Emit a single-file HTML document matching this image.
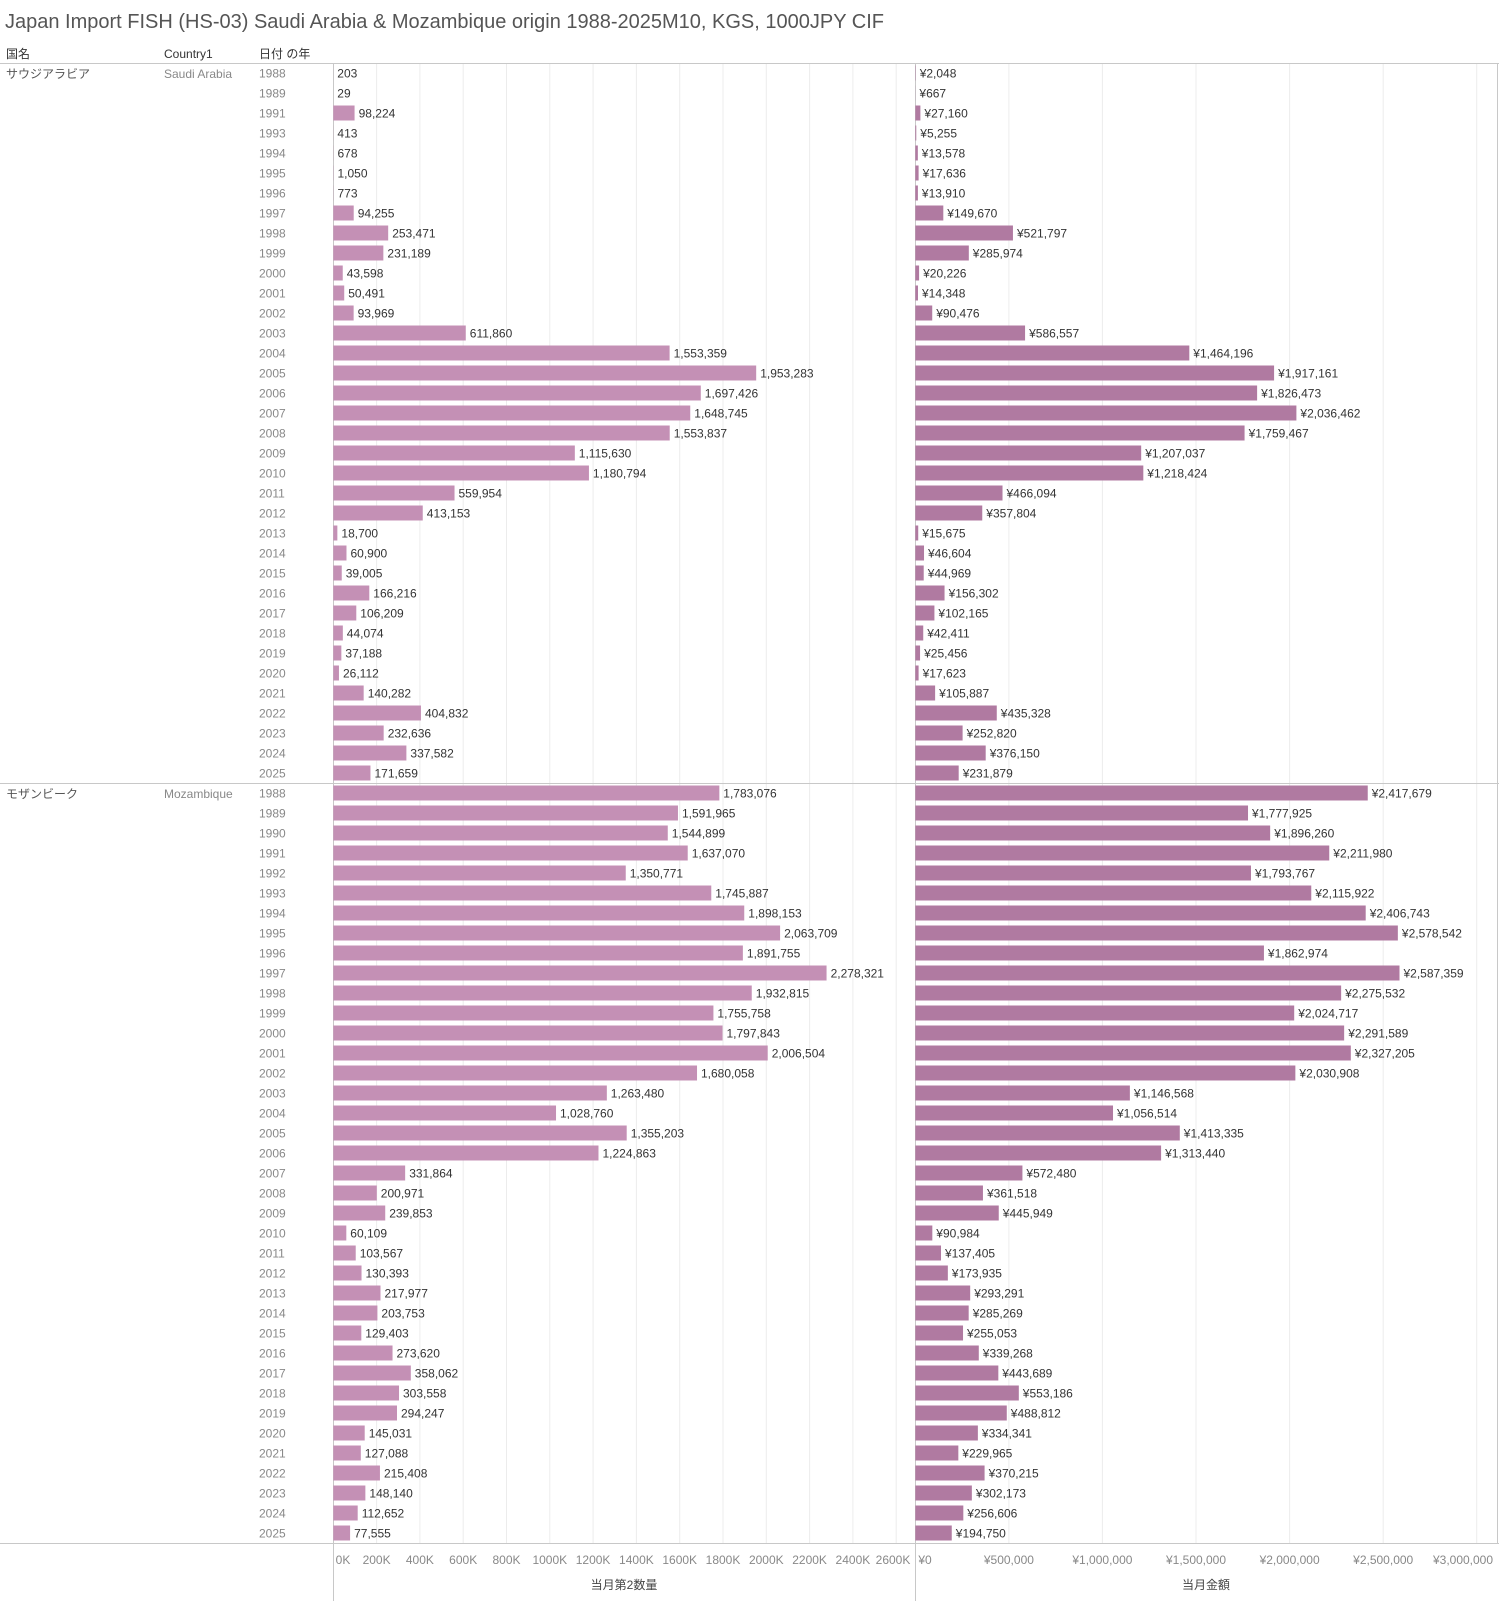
<!DOCTYPE html>
<html><head><meta charset="utf-8"><style>
html,body{margin:0;padding:0;background:#fff}
svg{display:block}
text{font-family:"Liberation Sans","Noto Sans CJK JP",sans-serif;font-size:12px}
.v{fill:#333}.y{fill:#888}.a{fill:#888;font-size:12px}
.l{fill:#c490b5}.r{fill:#b07aa1}
</style></head><body>
<svg width="1499" height="1601" viewBox="0 0 1499 1601" xmlns="http://www.w3.org/2000/svg">
<text x="5" y="28" style="font-size:20px;fill:#555">Japan Import FISH (HS-03) Saudi Arabia &amp; Mozambique origin 1988-2025M10, KGS, 1000JPY CIF</text>
<text x="6" y="58" style="fill:#333">国名</text>
<text x="164" y="58" style="fill:#333">Country1</text>
<text x="259" y="58" style="fill:#333">日付 の年</text>
<g stroke="#ececec" stroke-width="1">
<line x1="376.6" y1="63" x2="376.6" y2="1543"/><line x1="419.9" y1="63" x2="419.9" y2="1543"/><line x1="463.2" y1="63" x2="463.2" y2="1543"/><line x1="506.5" y1="63" x2="506.5" y2="1543"/><line x1="549.8" y1="63" x2="549.8" y2="1543"/><line x1="593.1" y1="63" x2="593.1" y2="1543"/><line x1="636.4" y1="63" x2="636.4" y2="1543"/><line x1="679.7" y1="63" x2="679.7" y2="1543"/><line x1="723" y1="63" x2="723" y2="1543"/><line x1="766.3" y1="63" x2="766.3" y2="1543"/><line x1="809.6" y1="63" x2="809.6" y2="1543"/><line x1="852.9" y1="63" x2="852.9" y2="1543"/><line x1="896.2" y1="63" x2="896.2" y2="1543"/>
<line x1="1008.9" y1="63" x2="1008.9" y2="1543"/><line x1="1102.4" y1="63" x2="1102.4" y2="1543"/><line x1="1196" y1="63" x2="1196" y2="1543"/><line x1="1289.6" y1="63" x2="1289.6" y2="1543"/><line x1="1383.2" y1="63" x2="1383.2" y2="1543"/><line x1="1476.7" y1="63" x2="1476.7" y2="1543"/>
</g>
<g stroke="#c8c8c8" stroke-width="1">
<line x1="0" y1="63.5" x2="1499" y2="63.5"/>
<line x1="0" y1="783.5" x2="1499" y2="783.5"/>
<line x1="0" y1="1543.5" x2="1499" y2="1543.5"/>
<line x1="333.5" y1="63" x2="333.5" y2="1601"/>
<line x1="915.5" y1="63" x2="915.5" y2="1601"/>
<line x1="1497.5" y1="63" x2="1497.5" y2="1543"/>
</g>
<text x="6" y="78" class="y" style="fill:#555">サウジアラビア</text>
<text x="164" y="78" class="y">Saudi Arabia</text>
<text x="6" y="798" class="y" style="fill:#555">モザンビーク</text>
<text x="164" y="798" class="y">Mozambique</text>

<g transform="translate(0,63)"><text x="259" y="14.5" class="y">1988</text><rect class="l" x="333.3" y="2.5" width="0.04" height="15"/><text x="337.3" y="14.5" class="v">203</text><rect class="r" x="915.3" y="2.5" width="0.38" height="15"/><text x="919.7" y="14.5" class="v">¥2,048</text></g>
<g transform="translate(0,83)"><text x="259" y="14.5" class="y">1989</text><text x="337.3" y="14.5" class="v">29</text><rect class="r" x="915.3" y="2.5" width="0.12" height="15"/><text x="919.4" y="14.5" class="v">¥667</text></g>
<g transform="translate(0,103)"><text x="259" y="14.5" class="y">1991</text><rect class="l" x="333.3" y="2.5" width="21.27" height="15"/><text x="358.6" y="14.5" class="v">98,224</text><rect class="r" x="915.3" y="2.5" width="5.08" height="15"/><text x="924.4" y="14.5" class="v">¥27,160</text></g>
<g transform="translate(0,123)"><text x="259" y="14.5" class="y">1993</text><rect class="l" x="333.3" y="2.5" width="0.09" height="15"/><text x="337.4" y="14.5" class="v">413</text><rect class="r" x="915.3" y="2.5" width="0.98" height="15"/><text x="920.3" y="14.5" class="v">¥5,255</text></g>
<g transform="translate(0,143)"><text x="259" y="14.5" class="y">1994</text><rect class="l" x="333.3" y="2.5" width="0.15" height="15"/><text x="337.5" y="14.5" class="v">678</text><rect class="r" x="915.3" y="2.5" width="2.54" height="15"/><text x="921.8" y="14.5" class="v">¥13,578</text></g>
<g transform="translate(0,163)"><text x="259" y="14.5" class="y">1995</text><rect class="l" x="333.3" y="2.5" width="0.23" height="15"/><text x="337.5" y="14.5" class="v">1,050</text><rect class="r" x="915.3" y="2.5" width="3.30" height="15"/><text x="922.6" y="14.5" class="v">¥17,636</text></g>
<g transform="translate(0,183)"><text x="259" y="14.5" class="y">1996</text><rect class="l" x="333.3" y="2.5" width="0.17" height="15"/><text x="337.5" y="14.5" class="v">773</text><rect class="r" x="915.3" y="2.5" width="2.60" height="15"/><text x="921.9" y="14.5" class="v">¥13,910</text></g>
<g transform="translate(0,203)"><text x="259" y="14.5" class="y">1997</text><rect class="l" x="333.3" y="2.5" width="20.41" height="15"/><text x="357.7" y="14.5" class="v">94,255</text><rect class="r" x="915.3" y="2.5" width="28.01" height="15"/><text x="947.3" y="14.5" class="v">¥149,670</text></g>
<g transform="translate(0,223)"><text x="259" y="14.5" class="y">1998</text><rect class="l" x="333.3" y="2.5" width="54.88" height="15"/><text x="392.2" y="14.5" class="v">253,471</text><rect class="r" x="915.3" y="2.5" width="97.65" height="15"/><text x="1017.0" y="14.5" class="v">¥521,797</text></g>
<g transform="translate(0,243)"><text x="259" y="14.5" class="y">1999</text><rect class="l" x="333.3" y="2.5" width="50.05" height="15"/><text x="387.4" y="14.5" class="v">231,189</text><rect class="r" x="915.3" y="2.5" width="53.52" height="15"/><text x="972.8" y="14.5" class="v">¥285,974</text></g>
<g transform="translate(0,263)"><text x="259" y="14.5" class="y">2000</text><rect class="l" x="333.3" y="2.5" width="9.44" height="15"/><text x="346.7" y="14.5" class="v">43,598</text><rect class="r" x="915.3" y="2.5" width="3.79" height="15"/><text x="923.1" y="14.5" class="v">¥20,226</text></g>
<g transform="translate(0,283)"><text x="259" y="14.5" class="y">2001</text><rect class="l" x="333.3" y="2.5" width="10.93" height="15"/><text x="348.2" y="14.5" class="v">50,491</text><rect class="r" x="915.3" y="2.5" width="2.69" height="15"/><text x="922.0" y="14.5" class="v">¥14,348</text></g>
<g transform="translate(0,303)"><text x="259" y="14.5" class="y">2002</text><rect class="l" x="333.3" y="2.5" width="20.34" height="15"/><text x="357.6" y="14.5" class="v">93,969</text><rect class="r" x="915.3" y="2.5" width="16.93" height="15"/><text x="936.2" y="14.5" class="v">¥90,476</text></g>
<g transform="translate(0,323)"><text x="259" y="14.5" class="y">2003</text><rect class="l" x="333.3" y="2.5" width="132.47" height="15"/><text x="469.8" y="14.5" class="v">611,860</text><rect class="r" x="915.3" y="2.5" width="109.77" height="15"/><text x="1029.1" y="14.5" class="v">¥586,557</text></g>
<g transform="translate(0,343)"><text x="259" y="14.5" class="y">2004</text><rect class="l" x="333.3" y="2.5" width="336.30" height="15"/><text x="673.6" y="14.5" class="v">1,553,359</text><rect class="r" x="915.3" y="2.5" width="274.01" height="15"/><text x="1193.3" y="14.5" class="v">¥1,464,196</text></g>
<g transform="translate(0,363)"><text x="259" y="14.5" class="y">2005</text><rect class="l" x="333.3" y="2.5" width="422.89" height="15"/><text x="760.2" y="14.5" class="v">1,953,283</text><rect class="r" x="915.3" y="2.5" width="358.78" height="15"/><text x="1278.1" y="14.5" class="v">¥1,917,161</text></g>
<g transform="translate(0,383)"><text x="259" y="14.5" class="y">2006</text><rect class="l" x="333.3" y="2.5" width="367.49" height="15"/><text x="704.8" y="14.5" class="v">1,697,426</text><rect class="r" x="915.3" y="2.5" width="341.81" height="15"/><text x="1261.1" y="14.5" class="v">¥1,826,473</text></g>
<g transform="translate(0,403)"><text x="259" y="14.5" class="y">2007</text><rect class="l" x="333.3" y="2.5" width="356.95" height="15"/><text x="694.3" y="14.5" class="v">1,648,745</text><rect class="r" x="915.3" y="2.5" width="381.10" height="15"/><text x="1300.4" y="14.5" class="v">¥2,036,462</text></g>
<g transform="translate(0,423)"><text x="259" y="14.5" class="y">2008</text><rect class="l" x="333.3" y="2.5" width="336.41" height="15"/><text x="673.7" y="14.5" class="v">1,553,837</text><rect class="r" x="915.3" y="2.5" width="329.27" height="15"/><text x="1248.6" y="14.5" class="v">¥1,759,467</text></g>
<g transform="translate(0,443)"><text x="259" y="14.5" class="y">2009</text><rect class="l" x="333.3" y="2.5" width="241.53" height="15"/><text x="578.8" y="14.5" class="v">1,115,630</text><rect class="r" x="915.3" y="2.5" width="225.88" height="15"/><text x="1145.2" y="14.5" class="v">¥1,207,037</text></g>
<g transform="translate(0,463)"><text x="259" y="14.5" class="y">2010</text><rect class="l" x="333.3" y="2.5" width="255.64" height="15"/><text x="592.9" y="14.5" class="v">1,180,794</text><rect class="r" x="915.3" y="2.5" width="228.02" height="15"/><text x="1147.3" y="14.5" class="v">¥1,218,424</text></g>
<g transform="translate(0,483)"><text x="259" y="14.5" class="y">2011</text><rect class="l" x="333.3" y="2.5" width="121.23" height="15"/><text x="458.5" y="14.5" class="v">559,954</text><rect class="r" x="915.3" y="2.5" width="87.22" height="15"/><text x="1006.5" y="14.5" class="v">¥466,094</text></g>
<g transform="translate(0,503)"><text x="259" y="14.5" class="y">2012</text><rect class="l" x="333.3" y="2.5" width="89.45" height="15"/><text x="426.8" y="14.5" class="v">413,153</text><rect class="r" x="915.3" y="2.5" width="66.96" height="15"/><text x="986.3" y="14.5" class="v">¥357,804</text></g>
<g transform="translate(0,523)"><text x="259" y="14.5" class="y">2013</text><rect class="l" x="333.3" y="2.5" width="4.05" height="15"/><text x="341.4" y="14.5" class="v">18,700</text><rect class="r" x="915.3" y="2.5" width="2.93" height="15"/><text x="922.2" y="14.5" class="v">¥15,675</text></g>
<g transform="translate(0,543)"><text x="259" y="14.5" class="y">2014</text><rect class="l" x="333.3" y="2.5" width="13.18" height="15"/><text x="350.5" y="14.5" class="v">60,900</text><rect class="r" x="915.3" y="2.5" width="8.72" height="15"/><text x="928.0" y="14.5" class="v">¥46,604</text></g>
<g transform="translate(0,563)"><text x="259" y="14.5" class="y">2015</text><rect class="l" x="333.3" y="2.5" width="8.44" height="15"/><text x="345.7" y="14.5" class="v">39,005</text><rect class="r" x="915.3" y="2.5" width="8.42" height="15"/><text x="927.7" y="14.5" class="v">¥44,969</text></g>
<g transform="translate(0,583)"><text x="259" y="14.5" class="y">2016</text><rect class="l" x="333.3" y="2.5" width="35.99" height="15"/><text x="373.3" y="14.5" class="v">166,216</text><rect class="r" x="915.3" y="2.5" width="29.25" height="15"/><text x="948.6" y="14.5" class="v">¥156,302</text></g>
<g transform="translate(0,603)"><text x="259" y="14.5" class="y">2017</text><rect class="l" x="333.3" y="2.5" width="22.99" height="15"/><text x="360.3" y="14.5" class="v">106,209</text><rect class="r" x="915.3" y="2.5" width="19.12" height="15"/><text x="938.4" y="14.5" class="v">¥102,165</text></g>
<g transform="translate(0,623)"><text x="259" y="14.5" class="y">2018</text><rect class="l" x="333.3" y="2.5" width="9.54" height="15"/><text x="346.8" y="14.5" class="v">44,074</text><rect class="r" x="915.3" y="2.5" width="7.94" height="15"/><text x="927.2" y="14.5" class="v">¥42,411</text></g>
<g transform="translate(0,643)"><text x="259" y="14.5" class="y">2019</text><rect class="l" x="333.3" y="2.5" width="8.05" height="15"/><text x="345.4" y="14.5" class="v">37,188</text><rect class="r" x="915.3" y="2.5" width="4.76" height="15"/><text x="924.1" y="14.5" class="v">¥25,456</text></g>
<g transform="translate(0,663)"><text x="259" y="14.5" class="y">2020</text><rect class="l" x="333.3" y="2.5" width="5.65" height="15"/><text x="343.0" y="14.5" class="v">26,112</text><rect class="r" x="915.3" y="2.5" width="3.30" height="15"/><text x="922.6" y="14.5" class="v">¥17,623</text></g>
<g transform="translate(0,683)"><text x="259" y="14.5" class="y">2021</text><rect class="l" x="333.3" y="2.5" width="30.37" height="15"/><text x="367.7" y="14.5" class="v">140,282</text><rect class="r" x="915.3" y="2.5" width="19.82" height="15"/><text x="939.1" y="14.5" class="v">¥105,887</text></g>
<g transform="translate(0,703)"><text x="259" y="14.5" class="y">2022</text><rect class="l" x="333.3" y="2.5" width="87.65" height="15"/><text x="425.0" y="14.5" class="v">404,832</text><rect class="r" x="915.3" y="2.5" width="81.47" height="15"/><text x="1000.8" y="14.5" class="v">¥435,328</text></g>
<g transform="translate(0,723)"><text x="259" y="14.5" class="y">2023</text><rect class="l" x="333.3" y="2.5" width="50.37" height="15"/><text x="387.7" y="14.5" class="v">232,636</text><rect class="r" x="915.3" y="2.5" width="47.31" height="15"/><text x="966.6" y="14.5" class="v">¥252,820</text></g>
<g transform="translate(0,743)"><text x="259" y="14.5" class="y">2024</text><rect class="l" x="333.3" y="2.5" width="73.09" height="15"/><text x="410.4" y="14.5" class="v">337,582</text><rect class="r" x="915.3" y="2.5" width="70.39" height="15"/><text x="989.7" y="14.5" class="v">¥376,150</text></g>
<g transform="translate(0,763)"><text x="259" y="14.5" class="y">2025</text><rect class="l" x="333.3" y="2.5" width="37.16" height="15"/><text x="374.5" y="14.5" class="v">171,659</text><rect class="r" x="915.3" y="2.5" width="43.39" height="15"/><text x="962.7" y="14.5" class="v">¥231,879</text></g>

<g transform="translate(0,783)"><text x="259" y="14.5" class="y">1988</text><rect class="l" x="333.3" y="2.5" width="386.04" height="15"/><text x="723.3" y="14.5" class="v">1,783,076</text><rect class="r" x="915.3" y="2.5" width="452.44" height="15"/><text x="1371.7" y="14.5" class="v">¥2,417,679</text></g>
<g transform="translate(0,803)"><text x="259" y="14.5" class="y">1989</text><rect class="l" x="333.3" y="2.5" width="344.66" height="15"/><text x="682.0" y="14.5" class="v">1,591,965</text><rect class="r" x="915.3" y="2.5" width="332.72" height="15"/><text x="1252.0" y="14.5" class="v">¥1,777,925</text></g>
<g transform="translate(0,823)"><text x="259" y="14.5" class="y">1990</text><rect class="l" x="333.3" y="2.5" width="334.47" height="15"/><text x="671.8" y="14.5" class="v">1,544,899</text><rect class="r" x="915.3" y="2.5" width="354.86" height="15"/><text x="1274.2" y="14.5" class="v">¥1,896,260</text></g>
<g transform="translate(0,843)"><text x="259" y="14.5" class="y">1991</text><rect class="l" x="333.3" y="2.5" width="354.42" height="15"/><text x="691.7" y="14.5" class="v">1,637,070</text><rect class="r" x="915.3" y="2.5" width="413.95" height="15"/><text x="1333.3" y="14.5" class="v">¥2,211,980</text></g>
<g transform="translate(0,863)"><text x="259" y="14.5" class="y">1992</text><rect class="l" x="333.3" y="2.5" width="292.44" height="15"/><text x="629.7" y="14.5" class="v">1,350,771</text><rect class="r" x="915.3" y="2.5" width="335.68" height="15"/><text x="1255.0" y="14.5" class="v">¥1,793,767</text></g>
<g transform="translate(0,883)"><text x="259" y="14.5" class="y">1993</text><rect class="l" x="333.3" y="2.5" width="377.98" height="15"/><text x="715.3" y="14.5" class="v">1,745,887</text><rect class="r" x="915.3" y="2.5" width="395.97" height="15"/><text x="1315.3" y="14.5" class="v">¥2,115,922</text></g>
<g transform="translate(0,903)"><text x="259" y="14.5" class="y">1994</text><rect class="l" x="333.3" y="2.5" width="410.95" height="15"/><text x="748.3" y="14.5" class="v">1,898,153</text><rect class="r" x="915.3" y="2.5" width="450.40" height="15"/><text x="1369.7" y="14.5" class="v">¥2,406,743</text></g>
<g transform="translate(0,923)"><text x="259" y="14.5" class="y">1995</text><rect class="l" x="333.3" y="2.5" width="446.79" height="15"/><text x="784.1" y="14.5" class="v">2,063,709</text><rect class="r" x="915.3" y="2.5" width="482.55" height="15"/><text x="1401.9" y="14.5" class="v">¥2,578,542</text></g>
<g transform="translate(0,943)"><text x="259" y="14.5" class="y">1996</text><rect class="l" x="333.3" y="2.5" width="409.57" height="15"/><text x="746.9" y="14.5" class="v">1,891,755</text><rect class="r" x="915.3" y="2.5" width="348.64" height="15"/><text x="1267.9" y="14.5" class="v">¥1,862,974</text></g>
<g transform="translate(0,963)"><text x="259" y="14.5" class="y">1997</text><rect class="l" x="333.3" y="2.5" width="493.26" height="15"/><text x="830.6" y="14.5" class="v">2,278,321</text><rect class="r" x="915.3" y="2.5" width="484.20" height="15"/><text x="1403.5" y="14.5" class="v">¥2,587,359</text></g>
<g transform="translate(0,983)"><text x="259" y="14.5" class="y">1998</text><rect class="l" x="333.3" y="2.5" width="418.45" height="15"/><text x="755.8" y="14.5" class="v">1,932,815</text><rect class="r" x="915.3" y="2.5" width="425.84" height="15"/><text x="1345.1" y="14.5" class="v">¥2,275,532</text></g>
<g transform="translate(0,1003)"><text x="259" y="14.5" class="y">1999</text><rect class="l" x="333.3" y="2.5" width="380.12" height="15"/><text x="717.4" y="14.5" class="v">1,755,758</text><rect class="r" x="915.3" y="2.5" width="378.90" height="15"/><text x="1298.2" y="14.5" class="v">¥2,024,717</text></g>
<g transform="translate(0,1023)"><text x="259" y="14.5" class="y">2000</text><rect class="l" x="333.3" y="2.5" width="389.23" height="15"/><text x="726.5" y="14.5" class="v">1,797,843</text><rect class="r" x="915.3" y="2.5" width="428.85" height="15"/><text x="1348.2" y="14.5" class="v">¥2,291,589</text></g>
<g transform="translate(0,1043)"><text x="259" y="14.5" class="y">2001</text><rect class="l" x="333.3" y="2.5" width="434.41" height="15"/><text x="771.7" y="14.5" class="v">2,006,504</text><rect class="r" x="915.3" y="2.5" width="435.51" height="15"/><text x="1354.8" y="14.5" class="v">¥2,327,205</text></g>
<g transform="translate(0,1063)"><text x="259" y="14.5" class="y">2002</text><rect class="l" x="333.3" y="2.5" width="363.73" height="15"/><text x="701.0" y="14.5" class="v">1,680,058</text><rect class="r" x="915.3" y="2.5" width="380.06" height="15"/><text x="1299.4" y="14.5" class="v">¥2,030,908</text></g>
<g transform="translate(0,1083)"><text x="259" y="14.5" class="y">2003</text><rect class="l" x="333.3" y="2.5" width="273.54" height="15"/><text x="610.8" y="14.5" class="v">1,263,480</text><rect class="r" x="915.3" y="2.5" width="214.57" height="15"/><text x="1133.9" y="14.5" class="v">¥1,146,568</text></g>
<g transform="translate(0,1103)"><text x="259" y="14.5" class="y">2004</text><rect class="l" x="333.3" y="2.5" width="222.73" height="15"/><text x="560.0" y="14.5" class="v">1,028,760</text><rect class="r" x="915.3" y="2.5" width="197.72" height="15"/><text x="1117.0" y="14.5" class="v">¥1,056,514</text></g>
<g transform="translate(0,1123)"><text x="259" y="14.5" class="y">2005</text><rect class="l" x="333.3" y="2.5" width="293.40" height="15"/><text x="630.7" y="14.5" class="v">1,355,203</text><rect class="r" x="915.3" y="2.5" width="264.49" height="15"/><text x="1183.8" y="14.5" class="v">¥1,413,335</text></g>
<g transform="translate(0,1143)"><text x="259" y="14.5" class="y">2006</text><rect class="l" x="333.3" y="2.5" width="265.18" height="15"/><text x="602.5" y="14.5" class="v">1,224,863</text><rect class="r" x="915.3" y="2.5" width="245.80" height="15"/><text x="1165.1" y="14.5" class="v">¥1,313,440</text></g>
<g transform="translate(0,1163)"><text x="259" y="14.5" class="y">2007</text><rect class="l" x="333.3" y="2.5" width="71.85" height="15"/><text x="409.2" y="14.5" class="v">331,864</text><rect class="r" x="915.3" y="2.5" width="107.13" height="15"/><text x="1026.4" y="14.5" class="v">¥572,480</text></g>
<g transform="translate(0,1183)"><text x="259" y="14.5" class="y">2008</text><rect class="l" x="333.3" y="2.5" width="43.51" height="15"/><text x="380.8" y="14.5" class="v">200,971</text><rect class="r" x="915.3" y="2.5" width="67.65" height="15"/><text x="987.0" y="14.5" class="v">¥361,518</text></g>
<g transform="translate(0,1203)"><text x="259" y="14.5" class="y">2009</text><rect class="l" x="333.3" y="2.5" width="51.93" height="15"/><text x="389.2" y="14.5" class="v">239,853</text><rect class="r" x="915.3" y="2.5" width="83.45" height="15"/><text x="1002.8" y="14.5" class="v">¥445,949</text></g>
<g transform="translate(0,1223)"><text x="259" y="14.5" class="y">2010</text><rect class="l" x="333.3" y="2.5" width="13.01" height="15"/><text x="350.3" y="14.5" class="v">60,109</text><rect class="r" x="915.3" y="2.5" width="17.03" height="15"/><text x="936.3" y="14.5" class="v">¥90,984</text></g>
<g transform="translate(0,1243)"><text x="259" y="14.5" class="y">2011</text><rect class="l" x="333.3" y="2.5" width="22.42" height="15"/><text x="359.7" y="14.5" class="v">103,567</text><rect class="r" x="915.3" y="2.5" width="25.71" height="15"/><text x="945.0" y="14.5" class="v">¥137,405</text></g>
<g transform="translate(0,1263)"><text x="259" y="14.5" class="y">2012</text><rect class="l" x="333.3" y="2.5" width="28.23" height="15"/><text x="365.5" y="14.5" class="v">130,393</text><rect class="r" x="915.3" y="2.5" width="32.55" height="15"/><text x="951.9" y="14.5" class="v">¥173,935</text></g>
<g transform="translate(0,1283)"><text x="259" y="14.5" class="y">2013</text><rect class="l" x="333.3" y="2.5" width="47.19" height="15"/><text x="384.5" y="14.5" class="v">217,977</text><rect class="r" x="915.3" y="2.5" width="54.89" height="15"/><text x="974.2" y="14.5" class="v">¥293,291</text></g>
<g transform="translate(0,1303)"><text x="259" y="14.5" class="y">2014</text><rect class="l" x="333.3" y="2.5" width="44.11" height="15"/><text x="381.4" y="14.5" class="v">203,753</text><rect class="r" x="915.3" y="2.5" width="53.38" height="15"/><text x="972.7" y="14.5" class="v">¥285,269</text></g>
<g transform="translate(0,1323)"><text x="259" y="14.5" class="y">2015</text><rect class="l" x="333.3" y="2.5" width="28.02" height="15"/><text x="365.3" y="14.5" class="v">129,403</text><rect class="r" x="915.3" y="2.5" width="47.73" height="15"/><text x="967.0" y="14.5" class="v">¥255,053</text></g>
<g transform="translate(0,1343)"><text x="259" y="14.5" class="y">2016</text><rect class="l" x="333.3" y="2.5" width="59.24" height="15"/><text x="396.5" y="14.5" class="v">273,620</text><rect class="r" x="915.3" y="2.5" width="63.49" height="15"/><text x="982.8" y="14.5" class="v">¥339,268</text></g>
<g transform="translate(0,1363)"><text x="259" y="14.5" class="y">2017</text><rect class="l" x="333.3" y="2.5" width="77.52" height="15"/><text x="414.8" y="14.5" class="v">358,062</text><rect class="r" x="915.3" y="2.5" width="83.03" height="15"/><text x="1002.3" y="14.5" class="v">¥443,689</text></g>
<g transform="translate(0,1383)"><text x="259" y="14.5" class="y">2018</text><rect class="l" x="333.3" y="2.5" width="65.72" height="15"/><text x="403.0" y="14.5" class="v">303,558</text><rect class="r" x="915.3" y="2.5" width="103.52" height="15"/><text x="1022.8" y="14.5" class="v">¥553,186</text></g>
<g transform="translate(0,1403)"><text x="259" y="14.5" class="y">2019</text><rect class="l" x="333.3" y="2.5" width="63.70" height="15"/><text x="401.0" y="14.5" class="v">294,247</text><rect class="r" x="915.3" y="2.5" width="91.48" height="15"/><text x="1010.8" y="14.5" class="v">¥488,812</text></g>
<g transform="translate(0,1423)"><text x="259" y="14.5" class="y">2020</text><rect class="l" x="333.3" y="2.5" width="31.40" height="15"/><text x="368.7" y="14.5" class="v">145,031</text><rect class="r" x="915.3" y="2.5" width="62.57" height="15"/><text x="981.9" y="14.5" class="v">¥334,341</text></g>
<g transform="translate(0,1443)"><text x="259" y="14.5" class="y">2021</text><rect class="l" x="333.3" y="2.5" width="27.51" height="15"/><text x="364.8" y="14.5" class="v">127,088</text><rect class="r" x="915.3" y="2.5" width="43.04" height="15"/><text x="962.3" y="14.5" class="v">¥229,965</text></g>
<g transform="translate(0,1463)"><text x="259" y="14.5" class="y">2022</text><rect class="l" x="333.3" y="2.5" width="46.64" height="15"/><text x="384.0" y="14.5" class="v">215,408</text><rect class="r" x="915.3" y="2.5" width="69.28" height="15"/><text x="988.6" y="14.5" class="v">¥370,215</text></g>
<g transform="translate(0,1483)"><text x="259" y="14.5" class="y">2023</text><rect class="l" x="333.3" y="2.5" width="32.07" height="15"/><text x="369.4" y="14.5" class="v">148,140</text><rect class="r" x="915.3" y="2.5" width="56.55" height="15"/><text x="975.9" y="14.5" class="v">¥302,173</text></g>
<g transform="translate(0,1503)"><text x="259" y="14.5" class="y">2024</text><rect class="l" x="333.3" y="2.5" width="24.39" height="15"/><text x="361.7" y="14.5" class="v">112,652</text><rect class="r" x="915.3" y="2.5" width="48.02" height="15"/><text x="967.3" y="14.5" class="v">¥256,606</text></g>
<g transform="translate(0,1523)"><text x="259" y="14.5" class="y">2025</text><rect class="l" x="333.3" y="2.5" width="16.79" height="15"/><text x="354.1" y="14.5" class="v">77,555</text><rect class="r" x="915.3" y="2.5" width="36.45" height="15"/><text x="955.8" y="14.5" class="v">¥194,750</text></g>

<g class="a" text-anchor="middle">
<text x="343" y="1564" class="a">0K</text>
<text x="376.6" y="1564" class="a">200K</text><text x="419.9" y="1564" class="a">400K</text><text x="463.2" y="1564" class="a">600K</text><text x="506.5" y="1564" class="a">800K</text><text x="549.8" y="1564" class="a">1000K</text><text x="593.1" y="1564" class="a">1200K</text><text x="636.4" y="1564" class="a">1400K</text><text x="679.7" y="1564" class="a">1600K</text><text x="723" y="1564" class="a">1800K</text><text x="766.3" y="1564" class="a">2000K</text><text x="809.6" y="1564" class="a">2200K</text><text x="852.9" y="1564" class="a">2400K</text><text x="893" y="1564" class="a">2600K</text>
<text x="925" y="1564" class="a">¥0</text>
<text x="1008.9" y="1564" class="a">¥500,000</text><text x="1102.4" y="1564" class="a">¥1,000,000</text><text x="1196" y="1564" class="a">¥1,500,000</text><text x="1289.6" y="1564" class="a">¥2,000,000</text><text x="1383.2" y="1564" class="a">¥2,500,000</text><text x="1463" y="1564" class="a">¥3,000,000</text>
<text x="624" y="1589" style="fill:#444">当月第2数量</text>
<text x="1206" y="1589" style="fill:#444">当月金額</text>
</g>
</svg>
</body></html>
